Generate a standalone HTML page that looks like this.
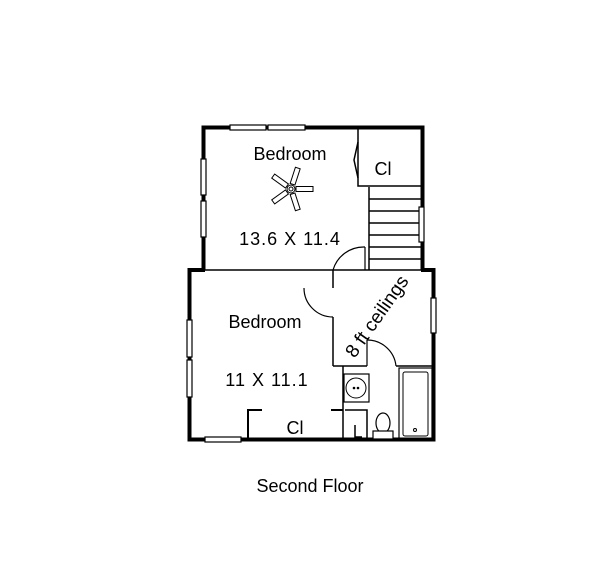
<!DOCTYPE html>
<html><head><style>body{margin:0;background:#fff}svg{display:block}</style></head><body>
<svg width="609" height="585" viewBox="0 0 609 585" xmlns="http://www.w3.org/2000/svg" font-family="Liberation Sans, sans-serif" fill="none" stroke="#000">
<!-- upper box -->
<path d="M203.5,270 V127.5 H422.5 V270" stroke-width="4"/>
<!-- lower box -->
<path d="M205,270 H189.5 V439.5 H433.5 V270 H421" stroke-width="4"/>
<line x1="203" y1="270" x2="422" y2="270" stroke-width="1.5"/>
<!-- upper closet -->
<path d="M358,129 V186 H421" stroke-width="1.5"/>
<path d="M358,142 L354,160 L358,178" stroke-width="1.5"/>
<!-- stairs -->
<line x1="369" y1="187" x2="369" y2="270" stroke-width="1.5"/>
<g stroke-width="1.5"><line x1="369" y1="199" x2="421" y2="199"/><line x1="369" y1="211" x2="421" y2="211"/><line x1="369" y1="223" x2="421" y2="223"/><line x1="369" y1="235" x2="421" y2="235"/><line x1="369" y1="247" x2="421" y2="247"/><line x1="369" y1="259" x2="421" y2="259"/></g>
<!-- windows -->
<g fill="#fff" stroke-width="1.2">
<rect x="230" y="125" width="36" height="5"/><rect x="268" y="125" width="37" height="5"/>
<rect x="201" y="159" width="5" height="36"/><rect x="201" y="201" width="5" height="36"/>
<rect x="419" y="207" width="5" height="35"/>
<rect x="187" y="320" width="5" height="37"/><rect x="187" y="360" width="5" height="37"/>
<rect x="205" y="437" width="36" height="5"/>
<rect x="431" y="298" width="5" height="35"/>
</g>
<!-- doors -->
<g stroke-width="1.2">
<path d="M365,247 V270"/><path d="M333,270 A32,32 0 0 1 365,247"/>
<line x1="333" y1="270" x2="333" y2="288" stroke-width="1.5"/>
<path d="M304,288 A29,29 0 0 0 333,317"/>
<line x1="333" y1="317" x2="333" y2="366" stroke-width="1.5"/>
<line x1="333" y1="366" x2="367" y2="366" stroke-width="1.5"/>
<line x1="367" y1="340" x2="367" y2="366"/>
<path d="M367,340 A29,29 0 0 1 396,366"/>
<line x1="396" y1="366" x2="433" y2="366" stroke-width="1.5"/>
<line x1="343" y1="366" x2="343" y2="439" stroke-width="1.5"/>
</g>
<!-- sink -->
<rect x="344" y="374" width="25" height="28" stroke-width="1.2"/>
<circle cx="356" cy="388" r="10" stroke-width="1"/>
<circle cx="354" cy="388" r="0.8" fill="#000"/><circle cx="358" cy="388" r="0.8" fill="#000"/>
<!-- lower closet -->
<path d="M262,410 H248 V439" stroke-width="2"/>
<path d="M331,410 H343" stroke-width="2"/>
<path d="M345,410 H367 V439" stroke-width="1.5"/>
<path d="M355,425 V437 H362" stroke-width="1.5"/>
<!-- tub -->
<rect x="399" y="368" width="33" height="71" stroke-width="1.2"/>
<rect x="403" y="372" width="25" height="64" rx="2" stroke-width="1"/>
<circle cx="415" cy="430" r="1.5" stroke-width="1"/>
<!-- toilet -->
<ellipse cx="383" cy="423" rx="7" ry="10" stroke-width="1.2"/>
<rect x="373" y="431" width="20" height="8" fill="#fff" stroke-width="1.2"/>
<!-- fan -->
<g stroke-width="1" transform="translate(291,189)">
<circle r="4"/><circle r="2"/>
<g><rect x="5" y="-2.5" width="17" height="5"/><rect x="5" y="-2.5" width="17" height="5" transform="rotate(72)"/><rect x="5" y="-2.5" width="17" height="5" transform="rotate(144)"/><rect x="5" y="-2.5" width="17" height="5" transform="rotate(216)"/><rect x="5" y="-2.5" width="17" height="5" transform="rotate(288)"/></g>
</g>
<!-- text -->
<g fill="#000" stroke="none" font-size="18" text-anchor="middle">
<text x="290" y="160">Bedroom</text>
<text x="383" y="175">Cl</text>
<text x="290" y="245" letter-spacing="1">13.6 X 11.4</text>
<text x="265" y="328">Bedroom</text>
<text x="267" y="386" letter-spacing="1">11 X 11.1</text>
<text x="295" y="434">Cl</text>
<text transform="translate(382,320) rotate(-55)" font-size="19">8 ft ceilings</text>
<text x="310" y="492">Second Floor</text>
</g>
</svg>
</body></html>
